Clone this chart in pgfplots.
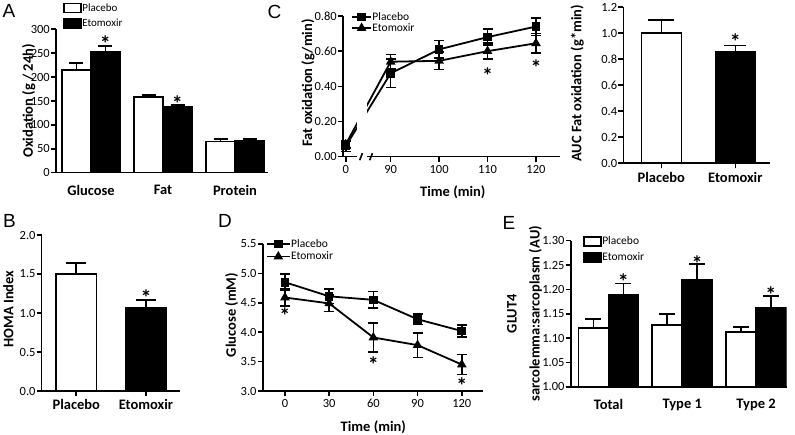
\documentclass[border=0pt]{standalone}
\usepackage{fontspec}
\setmainfont{Carlito}
\newfontfamily\letterfont{Liberation Sans}
\usepackage{pgfplots}
\pgfplotsset{compat=1.18}

\newcommand{\tickfont}{\fontsize{12.5}{14}\selectfont}
\newcommand{\labfont}{\fontsize{14.5}{16}\selectfont\bfseries}
\newcommand{\catfont}{\fontsize{14.5}{16}\selectfont\bfseries}
\newcommand{\panel}[3]{\node[font=\letterfont\fontsize{19}{20}\selectfont] at (#1pt,-#2pt) {#3};}
\newcommand{\sig}[2]{\node[font=\fontsize{22}{22}\selectfont\bfseries, yshift=-4.5pt] at (axis cs:#1,#2) {*};}

\pgfplotsset{
  prism/.style={
    scale only axis, axis on top, clip=false,
    axis lines=left, axis line style={-, line width=1.6pt},
    tick align=outside, major tick length=5pt,
    tick style={line width=1.6pt, black},
    tick label style={font=\tickfont},
    yticklabel style={inner xsep=1pt},
    /pgf/number format/assume math mode=true,
    label style={font=\labfont},
    legend cell align=left,
  },
  ylab/.style 2 args={every axis y label/.style={at={(axis description cs:#1,#2)},
    rotate=90, anchor=center, align=center, font=\labfont}},
  catx/.style={xticklabel style={font=\catfont}},
  noxticks/.style={xtick style={draw=none}},
  boxleg/.style={legend image code/.code={\draw[##1, line width=1.6pt] (0pt,-4.5pt) rectangle (17pt,4.5pt);}},
  lineleg/.style={legend image code/.code={\draw[mark repeat=2, mark phase=2, ##1] plot coordinates {(0pt,0pt) (#1/2,0pt) (#1,0pt)};}},
  barerr/.style={error bars/y dir=plus, error bars/y explicit,
    error bars/error bar style={line width=1.6pt, black},
    error bars/error mark options={rotate=90, mark size=#1, line width=1.6pt, black}},
  lineerr/.style={error bars/y dir=both, error bars/y explicit,
    error bars/error bar style={line width=1.6pt, black},
    error bars/error mark options={rotate=90, mark size=5pt, line width=1.6pt, black}},
  plac/.style={black, line width=1.8pt, mark=square*, mark size=3.4pt, mark options={solid}},
  etom/.style={black, line width=1.8pt, mark=triangle*, mark size=3.8pt, mark options={solid}},
}

\begin{document}
\begin{tikzpicture}
\useasboundingbox (0,0) rectangle (795pt,-435pt);

% ---------- A ----------
\begin{axis}[prism, catx, noxticks, ylab={-0.129}{0.5},
  at={(56pt,-172.7pt)}, anchor=south west, width=212pt, height=143.4pt,
  ybar=0pt, bar width=29pt,
  xmin=-0.486, xmax=2.458, ymin=0, ymax=300, ytick={0,50,...,300},
  xtick={0,1,2}, xticklabels={Glucose,Fat,Protein},
  xticklabel style={yshift=-4pt},
  ylabel={Oxidation (g / 24h)},
  legend style={at={(0.019,1.2)}, anchor=north west, draw=none, fill=none,
    font=\fontsize{11}{12}\selectfont, row sep=5pt,
    nodes={inner sep=0.5pt}, /tikz/every even column/.append style={column sep=3pt}},
]
\addplot[fill=white, draw=black, line width=1.6pt, boxleg, barerr=7pt]
  coordinates {(0,215) +- (0,15) (1,158) +- (0,5) (2,65) +- (0,5)};
\addlegendentry{Placebo}
\addplot[fill=black, draw=black, line width=1.6pt, boxleg, barerr=7pt]
  coordinates {(0,253) +- (0,12) (1,137) +- (0,5) (2,66) +- (0,4)};
\addlegendentry{Etomoxir}
\sig{0.2}{279}
\sig{1.2}{154}
\end{axis}

% ---------- C (line, broken x axis) ----------
\begin{axis}[prism, ylab={-0.161}{0.524},
  at={(343pt,-156.7pt)}, anchor=south west, width=217pt, height=140.7pt,
  x coord trafo/.code={\pgfmathparse{max(#1-80.71,0.1032*#1)}},
  xmin=-5.4, xmax=124.96, ymin=0, ymax=0.8,
  xtick={0,90,100,110,120}, xticklabels={0,90,100,110,120},
  ytick={0,0.2,0.4,0.6,0.8},
  yticklabel style={/pgf/number format/.cd, fixed, fixed zerofill, precision=2},
  x axis line style={draw=none},
  xlabel={Time (min)}, ylabel={Fat oxidation (g/min)},
  xlabel style={at={(axis description cs:0.506,-0.256)}, anchor=center},
  legend style={at={(0.023,1.045)}, anchor=north west, draw=none, fill=none,
    font=\fontsize{11.5}{12}\selectfont, row sep=0.5pt,
    nodes={inner sep=0.5pt}, /tikz/every even column/.append style={column sep=5pt}},
]
\addplot[plac, lineerr, lineleg=19pt]
  coordinates {(0,0.06) +- (0,0.03) (90,0.474) +- (0,0.08) (100,0.61) +- (0,0.05)
               (110,0.68) +- (0,0.045) (120,0.74) +- (0,0.05)};
\addlegendentry{Placebo}
\addplot[etom, lineerr, lineleg=19pt]
  coordinates {(0,0.07) +- (0,0.02) (90,0.54) +- (0,0.04) (100,0.545) +- (0,0.05)
               (110,0.60) +- (0,0.045) (120,0.645) +- (0,0.055)};
\addlegendentry{Etomoxir}
\fill[white] (rel axis cs:0.0645,-0.02) rectangle (rel axis cs:0.1106,1);
\draw[line width=1.6pt] (rel axis cs:0,0) -- (rel axis cs:0.0645,0);
\draw[line width=1.6pt] (rel axis cs:0.1106,0) -- (rel axis cs:1,0);
\draw[line width=1.6pt] (rel axis cs:0.0645,0) ++(0,-3.5pt) -- ++(0,7pt);
\draw[line width=1.6pt] (rel axis cs:0.1106,0) ++(0,-3.5pt) -- ++(0,7pt);
\sig{110}{0.489}
\sig{120}{0.531}
\end{axis}

% ---------- AUC ----------
\begin{axis}[prism, catx, ylab={-0.314}{0.513},
  at={(623.3pt,-163.3pt)}, anchor=south west, width=146.7pt, height=156pt,
  ybar, bar width=40pt,
  xmin=-0.514, xmax=1.469, ymin=0, ymax=1.2,
  ytick={0,0.2,0.4,0.6,0.8,1.0,1.2},
  yticklabel style={/pgf/number format/.cd, fixed, fixed zerofill, precision=1},
  xtick={0,1}, xticklabels={Placebo,Etomoxir},
  ylabel={AUC Fat oxidation (g*min)},
]
\addplot[bar shift=0pt, fill=white, draw=black, line width=1.6pt, barerr=13pt]
  coordinates {(0,1.00) +- (0,0.10)};
\addplot[bar shift=0pt, fill=black, draw=black, line width=1.6pt, barerr=11pt]
  coordinates {(1,0.86) +- (0,0.045)};
\sig{1}{0.969}
\end{axis}

% ---------- B ----------
\begin{axis}[prism, catx, ylab={-0.241}{0.526},
  at={(41.7pt,-391pt)}, anchor=south west, width=138.3pt, height=156pt,
  ybar, bar width=40.5pt,
  xmin=-0.496, xmax=1.488, ymin=0, ymax=2,
  ytick={0,0.5,1.0,1.5,2.0},
  yticklabel style={/pgf/number format/.cd, fixed, fixed zerofill, precision=1},
  xtick={0,1}, xticklabels={Placebo,Etomoxir},
  ylabel={HOMA Index},
]
\addplot[bar shift=0pt, fill=white, draw=black, line width=1.6pt, barerr=10pt]
  coordinates {(0,1.50) +- (0,0.14)};
\addplot[bar shift=0pt, fill=black, draw=black, line width=1.6pt, barerr=10pt]
  coordinates {(1,1.07) +- (0,0.10)};
\sig{1}{1.26}
\end{axis}

% ---------- D ----------
\begin{axis}[prism, ylab={-0.141}{0.517},
  at={(262.7pt,-391pt)}, anchor=south west, width=220.3pt, height=147pt,
  xmin=-15.1, xmax=134.4, ymin=3, ymax=5.5,
  xtick={0,30,60,90,120}, ytick={3.0,3.5,4.0,4.5,5.0,5.5},
  yticklabel style={/pgf/number format/.cd, fixed, fixed zerofill, precision=1},
  xlabel={Time (min)}, ylabel={Glucose (mM)},
  xlabel style={at={(axis description cs:0.502,-0.243)}, anchor=center},
  legend style={at={(0,1.05)}, anchor=north west, draw=none, fill=none,
    font=\fontsize{11.5}{12}\selectfont, row sep=2pt,
    nodes={inner sep=0.5pt}, /tikz/every even column/.append style={column sep=4pt}},
]
\addplot[plac, lineerr, lineleg=23pt]
  coordinates {(0,4.85) +- (0,0.14) (30,4.61) +- (0,0.12) (60,4.55) +- (0,0.14)
               (90,4.22) +- (0,0.09) (120,4.02) +- (0,0.10)};
\addlegendentry{Placebo}
\addplot[etom, lineerr, lineleg=23pt]
  coordinates {(0,4.59) +- (0,0.14) (30,4.49) +- (0,0.14) (60,3.91) +- (0,0.25)
               (90,3.78) +- (0,0.21) (120,3.45) +- (0,0.17)};
\addlegendentry{Etomoxir}
\sig{0}{4.35}
\sig{60}{3.53}
\sig{120}{3.16}
\end{axis}

% ---------- E ----------
\begin{axis}[prism, catx, noxticks, clip=true, ylab={-0.214}{0.5},
  at={(570.7pt,-386.7pt)}, anchor=south west, width=216pt, height=146pt,
  ybar=0pt, bar width=30pt,
  xmin=-0.512, xmax=2.415, ymin=1, ymax=1.3,
  ytick={1.00,1.05,1.10,1.15,1.20,1.25,1.30},
  yticklabel style={/pgf/number format/.cd, fixed, fixed zerofill, precision=2},
  xtick={0,1,2}, xticklabels={Total,Type 1,Type 2},
  xticklabel style={yshift=-4pt},
  ylabel={GLUT4\\[7pt]sarcolemma:sarcoplasm (AU)},
  legend style={at={(0.043,1.045)}, anchor=north west, draw=none, fill=none,
    font=\fontsize{11.5}{12}\selectfont, row sep=5.5pt,
    nodes={inner sep=0.5pt}, /tikz/every even column/.append style={column sep=5pt}},
]
\addplot[fill=white, draw=black, line width=1.6pt, boxleg, barerr=8pt]
  coordinates {(0,1.121) +- (0,0.018) (1,1.127) +- (0,0.022) (2,1.112) +- (0,0.011)};
\addlegendentry{Placebo}
\addplot[fill=black, draw=black, line width=1.6pt, boxleg, barerr=8pt]
  coordinates {(0,1.188) +- (0,0.024) (1,1.2205) +- (0,0.032) (2,1.163) +- (0,0.023)};
\addlegendentry{Etomoxir}
\sig{0.2}{1.225}
\sig{1.2}{1.263}
\sig{2.2}{1.199}
\end{axis}

\panel{9}{11}{A}
\panel{9.5}{221}{B}
\panel{274.5}{11.7}{C}
\panel{225}{221}{D}
\panel{509}{223}{E}
\end{tikzpicture}
\end{document}
